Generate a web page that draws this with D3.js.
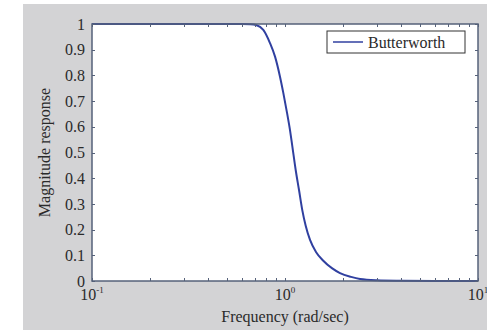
<!DOCTYPE html>
<html>
<head>
<meta charset="utf-8">
<script src="https://cdn.jsdelivr.net/npm/d3@7"></script>
<style>
  html, body { margin: 0; padding: 0; background: #fff; }
  svg text { font-family: "Liberation Serif", "Times New Roman", serif; fill: #2a2a2a; }
</style>
</head>
<body>
<div id="chart"></div>
<script>
  // Values
  var freq = [0.1, 0.3, 0.5, 0.6, 0.66, 0.708, 0.772, 0.836, 0.888, 0.942, 0.98, 1.024, 1.061, 1.091, 1.136,
              1.182, 1.229, 1.28, 1.348, 1.45, 1.574, 1.75, 1.927, 2.2, 2.45, 3, 4, 6, 10];
  var magnitude = [1, 1, 1, 1, 0.999, 0.996, 0.977, 0.926, 0.873, 0.795, 0.732, 0.655, 0.588, 0.525, 0.432,
                   0.354, 0.276, 0.215, 0.16, 0.112, 0.08, 0.05, 0.031, 0.016, 0.008, 0.003, 0.001, 0, 0];
  var yTicks = [0, 0.1, 0.2, 0.3, 0.4, 0.5, 0.6, 0.7, 0.8, 0.9, 1];
  var xMajor = [0.1, 1, 10];
  var xMajorExp = ['-1', '0', '1'];
  var xMinor = [0.2, 0.3, 0.4, 0.5, 0.6, 0.7, 0.8, 0.9, 2, 3, 4, 5, 6, 7, 8, 9];
  var seriesName = 'Butterworth';

  var width = 487, height = 330;
  var margin = { top: 24, right: 9, bottom: 49, left: 92 };
  var iw = width - margin.left - margin.right;
  var ih = height - margin.top - margin.bottom;
  var axisColor = '#56627a';

  var svg = d3.select('#chart').append('svg').attr('width', width).attr('height', height);
  // figure background
  svg.append('rect').attr('x', 23).attr('y', 4).attr('width', width - 23).attr('height', height - 4).attr('fill', '#d3d3d5');

  var x = d3.scaleLog().domain([0.1, 10]).range([0, iw]);
  var y = d3.scaleLinear().domain([0, 1]).range([ih, 0]);

  var g = svg.append('g').attr('transform', 'translate(' + margin.left + ',' + margin.top + ')');
  g.append('rect').attr('width', iw).attr('height', ih).attr('fill', '#fff');

  // curve
  var pts = freq.map(function (f, i) { return { f: f, m: magnitude[i] }; });
  var line = d3.line()
    .x(function (d) { return x(d.f); })
    .y(function (d) { return y(d.m); })
    .curve(d3.curveMonotoneX);
  g.append('path').datum(pts).attr('d', line)
    .attr('fill', 'none').attr('stroke', '#3040a0').attr('stroke-width', 2);

  // ticks (inside, on all four sides)
  var tk = g.append('g').attr('stroke', axisColor).attr('stroke-width', 1);
  yTicks.forEach(function (v) {
    var yy = Math.round(y(v)) + 0.5;
    tk.append('line').attr('x1', 0).attr('x2', 3).attr('y1', yy).attr('y2', yy);
    tk.append('line').attr('x1', iw).attr('x2', iw - 3).attr('y1', yy).attr('y2', yy);
  });
  xMajor.concat(xMinor).forEach(function (v) {
    var xx = Math.round(x(v)) + 0.5;
    tk.append('line').attr('x1', xx).attr('x2', xx).attr('y1', ih).attr('y2', ih - 3);
    tk.append('line').attr('x1', xx).attr('x2', xx).attr('y1', 0).attr('y2', 3);
  });
  // box
  g.append('rect').attr('width', iw).attr('height', ih)
    .attr('fill', 'none').attr('stroke', axisColor).attr('stroke-width', 1.5);

  // y labels
  g.selectAll('.ylab').data(yTicks).enter().append('text')
    .attr('x', -7).attr('y', function (d) { return y(d); }).attr('dy', '0.35em')
    .attr('text-anchor', 'end').attr('font-size', 16)
    .text(function (d) { return d === 0 || d === 1 ? String(d) : d.toFixed(1); });

  // x labels with superscript exponent
  xMajor.forEach(function (v, i) {
    var t = g.append('text').attr('x', x(v)).attr('y', ih + 19)
      .attr('text-anchor', 'middle').attr('font-size', 16);
    t.append('tspan').text('10');
    t.append('tspan').attr('font-size', 9).attr('dy', -7).text(xMajorExp[i]);
  });

  g.append('text').attr('x', iw / 2).attr('y', ih + 41).attr('text-anchor', 'middle')
    .attr('font-size', 16).text('Frequency (rad/sec)');
  g.append('text').attr('transform', 'translate(-42,' + (ih / 2) + ') rotate(-90)')
    .attr('text-anchor', 'middle').attr('font-size', 16).text('Magnitude response');

  // legend
  var lg = g.append('g').attr('transform', 'translate(' + (iw - 151) + ',7)');
  lg.append('rect').attr('width', 138).attr('height', 22).attr('fill', '#fff')
    .attr('stroke', '#333').attr('stroke-width', 1);
  lg.append('line').attr('x1', 6).attr('x2', 36).attr('y1', 11).attr('y2', 11)
    .attr('stroke', '#3040a0').attr('stroke-width', 1.5);
  lg.append('text').attr('x', 41).attr('y', 11).attr('dy', '0.35em').attr('font-size', 16).text(seriesName);
</script>
</body>
</html>
